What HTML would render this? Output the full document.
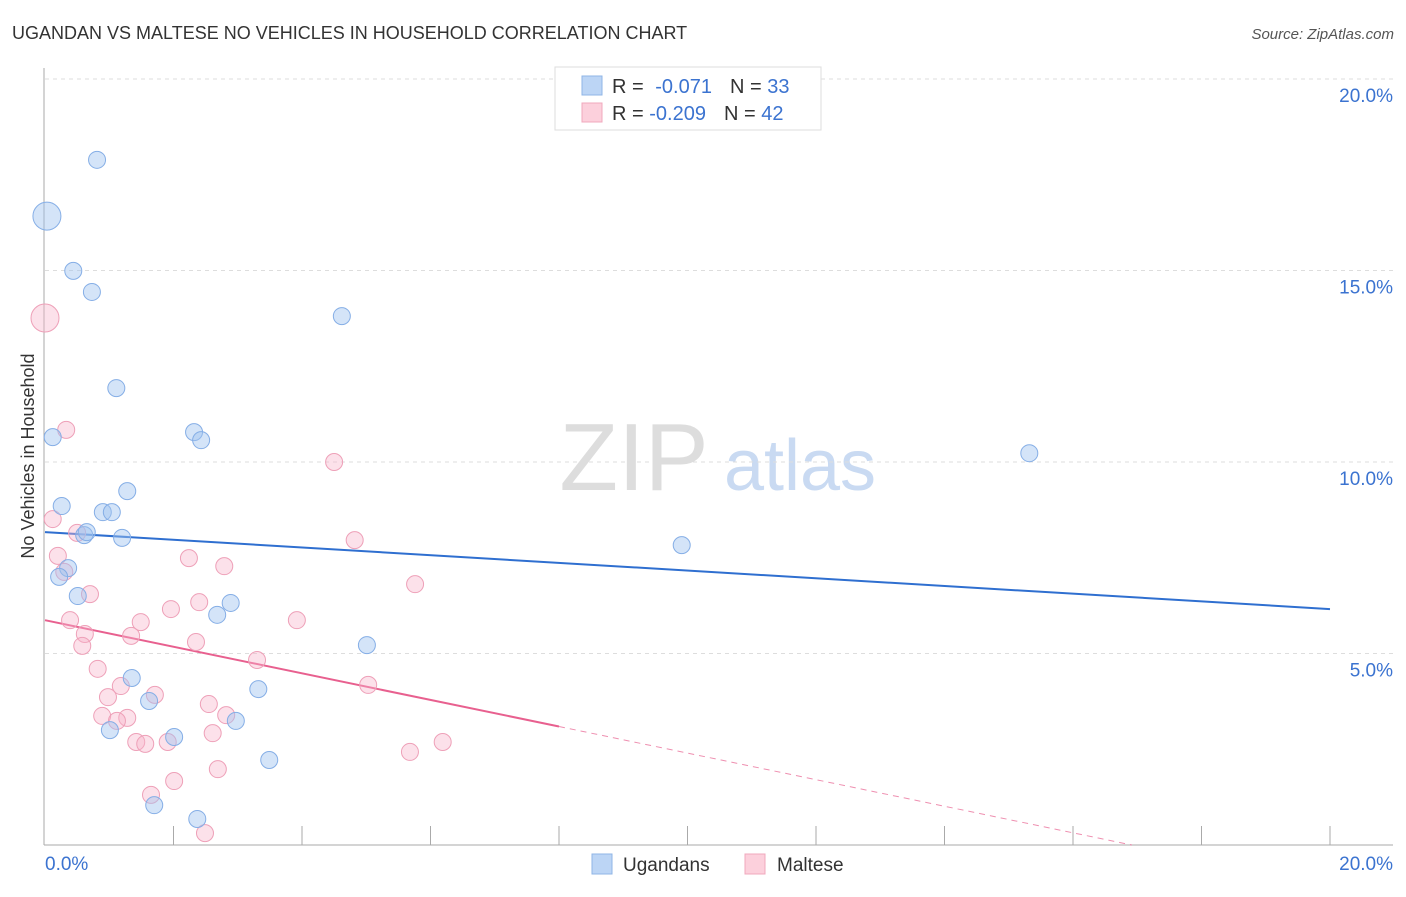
<!DOCTYPE html>
<html><head><meta charset="utf-8"><style>
body{margin:0;background:#fff;font-family:"Liberation Sans",sans-serif;}
svg text{font-family:"Liberation Sans",sans-serif;}
</style></head><body>
<svg id="chart" width="1406" height="892" xmlns="http://www.w3.org/2000/svg">
<text x="12" y="39" font-size="18" fill="#333">UGANDAN VS MALTESE NO VEHICLES IN HOUSEHOLD CORRELATION CHART</text>
<text x="1394" y="39" font-size="15" fill="#555" font-style="italic" text-anchor="end">Source: ZipAtlas.com</text>
<text x="634" y="490" font-size="96" fill="#ddd" font-family="Liberation Serif" text-anchor="middle">ZIP</text>
<text x="800" y="490" font-size="72" fill="#c9daf2" text-anchor="middle">atlas</text>
<text transform="translate(34,456) rotate(-90)" font-size="18" fill="#333" text-anchor="middle">No Vehicles in Household</text>
<g id="grid"></g><g id="axes"></g><g id="lines"></g><g id="pts"></g>
<g>
<rect x="555" y="67" width="266" height="63" fill="#fff" stroke="#ddd"/>
<rect x="582" y="76" width="20" height="19" fill="#bcd5f5" stroke="#8fb5e6"/>
<rect x="582" y="103" width="20" height="19" fill="#fcd0dc" stroke="#f0a8bd"/>
<text x="612" y="93" font-size="20" fill="#333">R = <tspan fill="#3b73d0" dx="6">-0.071</tspan><tspan dx="18" fill="#333">N = </tspan><tspan fill="#3b73d0">33</tspan></text>
<text x="612" y="120" font-size="20" fill="#333">R = <tspan fill="#3b73d0">-0.209</tspan><tspan dx="18" fill="#333">N = </tspan><tspan fill="#3b73d0">42</tspan></text>
</g>
<g>
<rect x="592" y="854" width="20" height="20" fill="#bcd5f5" stroke="#8fb5e6"/>
<text x="623" y="871" font-size="19" fill="#333">Ugandans</text>
<rect x="745" y="854" width="20" height="20" fill="#fcd0dc" stroke="#f0a8bd"/>
<text x="777" y="871" font-size="19" fill="#333">Maltese</text>
</g>
</svg>
<script>
const yTicks=[5,10,15,20];
const yTickLabels=["5.0%","10.0%","15.0%","20.0%"];
const xTickLabels=["0.0%","20.0%"];
const blueX=[0.81,0.03,0.44,0.73,4.62,1.11,0.12,2.32,2.43,15.32,0.26,1.28,0.90,1.04,0.61,0.65,1.20,9.91,0.36,0.22,0.51,2.89,2.68,5.01,1.35,3.32,1.62,1.01,2.01,2.97,3.49,1.70,2.37];
const blueY=[17.89,16.42,14.99,14.44,13.81,11.93,10.65,10.78,10.57,10.23,8.85,9.24,8.69,8.69,8.09,8.17,8.02,7.83,7.23,7.00,6.50,6.32,6.01,5.22,4.36,4.07,3.76,3.00,2.82,3.24,2.22,1.04,0.68];
const blueBig=[1];
const pinkX=[0.0,0.33,0.12,4.50,4.82,0.50,0.20,2.24,2.79,0.30,0.70,5.76,2.40,1.96,0.39,1.49,0.62,1.34,2.35,3.92,0.58,3.30,0.82,5.03,1.18,0.98,1.71,2.55,0.89,1.28,1.12,2.82,2.61,1.42,1.56,1.91,5.68,6.19,2.69,2.01,1.65,2.49];
const pinkY=[13.76,10.84,8.51,10.00,7.96,8.15,7.55,7.49,7.28,7.13,6.55,6.81,6.34,6.16,5.87,5.82,5.51,5.46,5.30,5.87,5.20,4.83,4.60,4.18,4.15,3.86,3.92,3.68,3.37,3.32,3.24,3.39,2.92,2.69,2.64,2.69,2.43,2.69,1.98,1.67,1.31,0.31];
const pinkBig=[0];
const blueTrend=[8.17,6.16];
const pinkTrend=[5.87,-0.347];
const NS="http://www.w3.org/2000/svg";
const sx=v=>45+v*64.25, sy=v=>845-v*38.3;
function mk(g,t,a){const e=document.createElementNS(NS,t);for(const k in a)e.setAttribute(k,a[k]);document.getElementById(g).appendChild(e);return e;}
yTicks.forEach((t,i)=>{
 const l=mk('grid','line',{x1:45,x2:1393,y1:sy(t),y2:sy(t),stroke:'#ddd','stroke-dasharray':'4,4'});
 
 
 const tx=mk('grid','text',{x:1393,y:sy(t)+23,'font-size':19,fill:'#3b73d0','text-anchor':'end'});
 tx.textContent=yTickLabels[i];
 
 
});
mk('axes','line',{x1:44,x2:44,y1:68,y2:845,stroke:'#aaa'});
mk('axes','line',{x1:44,x2:1393,y1:845,y2:845,stroke:'#aaa'});
for(let i=1;i<=10;i++){const t=mk('axes','line',{x1:sx(i*2),x2:sx(i*2),y1:826,y2:845,stroke:'#aaa'});
 
 }
[[0,'start',45],[20,'end',1393]].forEach((d,i)=>{const t=mk('axes','text',{x:d[2],y:870,'font-size':19,fill:'#3b73d0','text-anchor':d[1]});t.textContent=xTickLabels[i];
 
 });
function dots(X,Y,big,fill,stroke,name){X.forEach((x,i)=>{const c=mk('pts','circle',{cx:sx(x),cy:sy(Y[i]),r:big.includes(i)?14:8.5,fill:fill,stroke:stroke,'stroke-width':1});
 
 });}
dots(pinkX,pinkY,pinkBig,'rgba(248,180,202,0.4)','#eea0b8','maltese-point');
dots(blueX,blueY,blueBig,'rgba(160,196,240,0.45)','#85aee6','ugandan-point');
const bl=mk('lines','line',{x1:sx(0),y1:sy(blueTrend[0]),x2:sx(20),y2:sy(blueTrend[1]),stroke:'#2f6fd0','stroke-width':2});


const pf=x=>pinkTrend[0]+pinkTrend[1]*x;
const pl=mk('lines','line',{x1:sx(0),y1:sy(pf(0)),x2:sx(8),y2:sy(pf(8)),stroke:'#e8608f','stroke-width':2});


const xe=-pinkTrend[0]/pinkTrend[1];
const pd=mk('lines','line',{x1:sx(8),y1:sy(pf(8)),x2:sx(xe),y2:sy(0),stroke:'#e8608f','stroke-width':1,'stroke-dasharray':'6,5','opacity':0.7});


</script>
</body></html>
